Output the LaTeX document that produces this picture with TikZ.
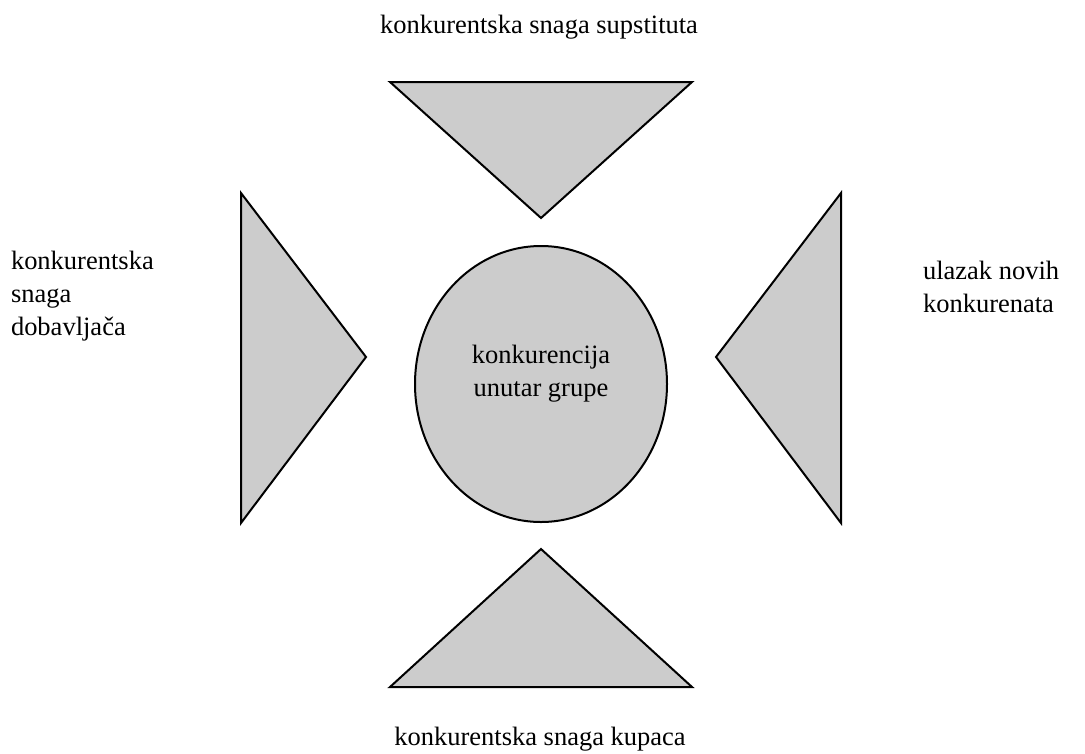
\documentclass[tikz,border=0pt]{standalone}
\usepackage{fontspec}
\setmainfont{Liberation Serif}
\usetikzlibrary{shapes.geometric}
\definecolor{sivo}{RGB}{204,204,204}

\begin{document}
\begin{tikzpicture}[x=1pt,y=-1pt,line width=2pt,
	sila/.style={draw=black,fill=sivo,line join=miter},
	krug/.style={draw=black,fill=sivo,ellipse,inner sep=0pt,minimum width=252pt,minimum height=276pt},
	opis/.style={font=\fontsize{26.5}{33}\selectfont,inner sep=0pt}]
	\def\cx{541}	%middle of picture
	\def\cy{384}
	
	%BOUNDING BOX
	\useasboundingbox (0,0) rectangle (1085,753);
	
	%TRIANGLES
	\draw[sila] (390,82)--(692,82)--(\cx,218)--cycle;	%top
	\draw[sila] (390,687)--(692,687)--(\cx,549)--cycle;	%bottom
	\draw[sila] (241,193)--(241,523)--(366,357)--cycle;	%left
	\draw[sila] (841,193)--(841,523)--(716,357)--cycle;	%right
	
	%CIRCLE
	\node[krug] (krug) at (\cx,\cy) {};
	\node[opis,align=center] (grupa) at (\cx,374) {konkurencija\\unutar grupe};
	
	%LABELS
	\node[opis,anchor=base] (supstituti) at (539,33) {konkurentska snaga supstituta};
	\node[opis,anchor=base] (kupci) at (540,745) {konkurentska snaga kupaca};
	\node[opis,align=left,anchor=north west] (dobavljaci) at (10,250) {konkurentska\\snaga\\dobavljača};
	\node[opis,align=left,anchor=north west] (novi) at (922,260) {ulazak novih\\konkurenata};
\end{tikzpicture}
\end{document}
